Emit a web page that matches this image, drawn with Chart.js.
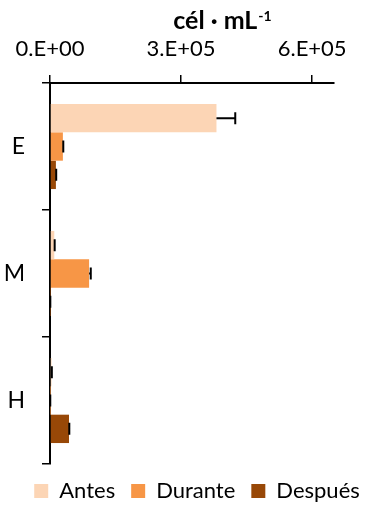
<!DOCTYPE html>
<html>
<head>
<meta charset="utf-8">
<script src="https://cdn.jsdelivr.net/npm/chart.js@4.4.1/dist/chart.umd.min.js"></script>
<style>
  html, body { margin: 0; padding: 0; background: #fff; }
</style>
</head>
<body>
<canvas id="chart" width="367" height="510"></canvas>
<script>
// zones on the vertical axis, three sampling moments per zone
const zonas = ["E", "M", "H"];
const momentos = ["Antes", "Durante", "Después"];

const antes = [381000, 9800, 3500];
const antesErr = [43000, 900, 700];
const durante = [29500, 89500, 300];
const duranteErr = [900, 3800, 300];
const despues = [13500, 400, 43500];
const despuesErr = [700, 300, 700];

const xTickValues = [0, 300000, 600000];
const xTickLabels = ["0.E+00", "3.E+05", "6.E+05"];
const xMax = 650000;

const colores = ["#FCD5B5", "#F79646", "#984807"];

const FONT = "Lato";

// "cél · mL-1" with the exponent raised
const axisTitle = {
  id: "axisTitle",
  afterDraw(chart) {
    const ctx = chart.ctx;
    const main = "cél · mL";
    const sup = "-1";
    ctx.save();
    ctx.fillStyle = "#000";
    ctx.textBaseline = "alphabetic";
    ctx.font = "bold 25px " + FONT;
    const w1 = ctx.measureText(main).width;
    ctx.font = "bold 14px " + FONT;
    const w2 = ctx.measureText(sup).width;
    const x0 = 222 - (w1 + w2) / 2;
    ctx.font = "bold 25px " + FONT;
    ctx.fillText(main, x0, 29);
    ctx.font = "bold 14px " + FONT;
    ctx.fillText(sup, x0 + w1 + 1, 21);
    ctx.restore();
  }
};

// one-sided error bars (only toward larger values)
const errorBars = {
  id: "errorBars",
  afterDatasetsDraw(chart) {
    const ctx = chart.ctx;
    const xs = chart.scales.x;
    ctx.save();
    ctx.strokeStyle = "#000";
    ctx.lineWidth = 2;
    chart.data.datasets.forEach((ds, i) => {
      const meta = chart.getDatasetMeta(i);
      meta.data.forEach((bar, j) => {
        const x1 = xs.getPixelForValue(ds.data[j]);
        const x2 = xs.getPixelForValue(ds.data[j] + ds.errors[j]);
        const y = bar.y;
        ctx.beginPath();
        ctx.moveTo(x1, y);
        ctx.lineTo(x2, y);
        ctx.moveTo(x2, y - 6);
        ctx.lineTo(x2, y + 6);
        ctx.stroke();
      });
    });
    ctx.restore();
  }
};

const valores = [antes, durante, despues];
const errores = [antesErr, duranteErr, despuesErr];

new Chart(document.getElementById("chart"), {
  type: "bar",
  data: {
    labels: zonas,
    datasets: momentos.map((m, i) => ({
      label: m,
      data: valores[i],
      errors: errores[i],
      backgroundColor: colores[i],
      borderWidth: 0,
      categoryPercentage: 0.67,
      barPercentage: 1.0
    }))
  },
  options: {
    indexAxis: "y",
    responsive: false,
    animation: false,
    devicePixelRatio: 1,
    // negative right padding pushes the centred legend to the right
    layout: { padding: { left: 0, right: -27, top: 0, bottom: -2 } },
    plugins: {
      legend: {
        position: "bottom",
        labels: {
          color: "#000",
          font: { family: FONT, size: 22 },
          boxWidth: 14,
          boxHeight: 14,
          padding: 16
        }
      },
      tooltip: { enabled: false }
    },
    scales: {
      x: {
        position: "top",
        min: 0,
        max: xMax,
        afterBuildTicks(scale) {
          scale.ticks = xTickValues.map(v => ({ value: v }));
        },
        afterFit(scale) {
          scale.height = 83;
          scale.paddingLeft = 0;
          scale.paddingRight = 33;
        },
        ticks: {
          color: "#000",
          font: { family: FONT, size: 22 },
          padding: 13,
          maxRotation: 0,
          callback: (v) => xTickLabels[xTickValues.indexOf(v)]
        },
        grid: {
          drawOnChartArea: false,
          color: "#000",
          lineWidth: 1.5,
          tickLength: 8
        },
        border: { color: "#000", width: 2 }
      },
      y: {
        afterFit(scale) {
          scale.width = 50;
          scale.paddingTop = 0;
          scale.paddingBottom = 0;
        },
        ticks: {
          color: "#000",
          font: { family: FONT, size: 23 },
          padding: 17
        },
        grid: {
          offset: true,
          drawOnChartArea: false,
          color: "#000",
          lineWidth: 1.5,
          tickLength: 8
        },
        border: { color: "#000", width: 2 }
      }
    }
  },
  plugins: [axisTitle, errorBars]
});
</script>
</body>
</html>
